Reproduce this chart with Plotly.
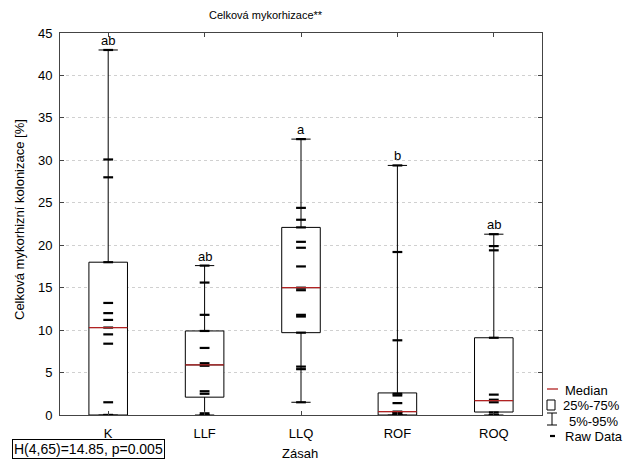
import plotly.graph_objects as go

# ---- data ----
categories = ["K", "LLF", "LLQ", "ROF", "ROQ"]
raw_K = [43.0, 30.1, 28.0, 18.0, 13.2, 12.0, 11.2, 10.3, 9.5, 8.4, 1.5, 0.0, 0.0]
raw_LLF = [17.6, 15.6, 11.8, 9.9, 7.9, 6.1, 5.8, 2.8, 2.5, 0.2, 0.0, 0.0]
raw_LLQ = [32.5, 24.4, 23.0, 22.1, 20.4, 19.7, 17.5, 15.0, 14.7, 11.8, 11.6, 9.7, 5.7, 5.4, 1.5]
raw_ROF = [29.4, 19.2, 8.8, 2.5, 2.3, 1.4, 0.4, 0.3, 0.2, 0.0, 0.0, 0.0, 0.0]
raw_ROQ = [21.3, 19.9, 19.4, 9.1, 2.4, 1.8, 1.5, 0.3, 0.0, 0.0, 0.0, 0.0]
raw_data = [raw_K, raw_LLF, raw_LLQ, raw_ROF, raw_ROQ]

q1 = [0.0, 2.1, 9.7, 0.0, 0.35]
median = [10.3, 5.9, 15.0, 0.4, 1.7]
q3 = [18.0, 9.9, 22.1, 2.6, 9.1]
p05 = [0.0, 0.0, 1.5, 0.0, 0.0]
p95 = [43.0, 17.6, 32.5, 29.4, 21.3]
letters = ["ab", "ab", "a", "b", "ab"]

title_text = "Celková mykorhizace**"
y_title = "Celková mykorhizní kolonizace [%]"
x_title = "Zásah"
stats_text = "H(4,65)=14.85, p=0.005"
y_ticks = [0, 5, 10, 15, 20, 25, 30, 35, 40, 45]

FONT = "Liberation Sans, Arial, sans-serif"
W, H = 637, 464
L, R, T, B = 60, 95, 33, 49
PW, PH = W - L - R, H - T - B


def px(x):
    return (x - L) / PW


def py(y):
    return (H - B - y) / PH


idx = list(range(len(categories)))
BOXW = 0.4

fig = go.Figure()
fig.add_trace(go.Box(
    x=idx, q1=q1, median=median, q3=q3, lowerfence=p05, upperfence=p95,
    width=BOXW, whiskerwidth=0.5, fillcolor="white",
    line=dict(color="black", width=1), boxpoints=False, showlegend=False,
    hoverinfo="skip",
))

rx, ry = [], []
for i, vals in enumerate(raw_data):
    rx += [i] * len(vals)
    ry += vals
fig.add_trace(go.Scatter(
    x=rx, y=ry, mode="markers", showlegend=False,
    marker=dict(symbol="line-ew", size=7, line=dict(width=2.2, color="black")),
))

shapes = []
for i, m in enumerate(median):
    shapes.append(dict(type="line", xref="x", yref="y", x0=i - BOXW / 2, x1=i + BOXW / 2,
                       y0=m, y1=m, line=dict(color="#b22222", width=1.3)))

annotations = []
for i, (t, top) in enumerate(zip(letters, p95)):
    annotations.append(dict(x=i, y=top, xref="x", yref="y", text=t, showarrow=False,
                            yanchor="bottom", yshift=0, font=dict(size=13, color="black", family=FONT)))

annotations += [
    dict(x=px(266), y=py(15), xref="paper", yref="paper", text=title_text, showarrow=False,
         xanchor="center", yanchor="middle", font=dict(size=11, color="black", family=FONT)),
    dict(x=px(19), y=py(220), xref="paper", yref="paper", text=y_title, showarrow=False,
         textangle=-90, xanchor="center", yanchor="middle", font=dict(size=13, color="black", family=FONT)),
    dict(x=px(300), y=py(453), xref="paper", yref="paper", text=x_title, showarrow=False,
         xanchor="center", yanchor="middle", font=dict(size=13, color="black", family=FONT)),
    dict(x=px(12), y=py(449), xref="paper", yref="paper", text=stats_text, showarrow=False,
         xanchor="left", yanchor="middle", bordercolor="black", borderwidth=1, borderpad=1,
         bgcolor="white", font=dict(size=14, color="black", family=FONT)),
]

# legend (manual)
leg_font = dict(size=13, color="black", family=FONT)
shapes += [
    dict(type="line", xref="paper", yref="paper", x0=px(547), x1=px(558), y0=py(389), y1=py(389),
         line=dict(color="#b22222", width=1.3)),
    dict(type="rect", xref="paper", yref="paper", x0=px(547), x1=px(555), y0=py(410), y1=py(400),
         line=dict(color="black", width=1)),
    dict(type="line", xref="paper", yref="paper", x0=px(547), x1=px(557), y0=py(413), y1=py(413),
         line=dict(color="black", width=1)),
    dict(type="line", xref="paper", yref="paper", x0=px(552), x1=px(552), y0=py(413), y1=py(425),
         line=dict(color="black", width=1)),
    dict(type="line", xref="paper", yref="paper", x0=px(547), x1=px(557), y0=py(425), y1=py(425),
         line=dict(color="black", width=1)),
    dict(type="line", xref="paper", yref="paper", x0=px(550), x1=px(555), y0=py(436), y1=py(436),
         line=dict(color="black", width=2.2)),
]
for txt, xx, yy in [("Median", 563, 390), ("25%-75%", 561, 405), ("5%-95%", 567, 421), ("Raw Data", 563, 437)]:
    annotations.append(dict(x=px(xx), y=py(yy), xref="paper", yref="paper", text=txt, showarrow=False,
                            xanchor="left", yanchor="middle", font=leg_font))

fig.update_layout(
    width=W, height=H, margin=dict(l=L, r=R, t=T, b=B),
    paper_bgcolor="white", plot_bgcolor="white",
    font=dict(family=FONT, size=13, color="black"),
    shapes=shapes, annotations=annotations, showlegend=False,
)
fig.update_xaxes(
    range=[-0.5, 4.5], tickvals=idx, ticktext=categories, showgrid=False, zeroline=False,
    showline=True, linecolor="#444444", linewidth=1, mirror="allticks",
    ticks="inside", ticklen=4, tickcolor="#444444", ticklabelstandoff=6,
    tickfont=dict(size=13, color="black", family=FONT),
)
fig.update_yaxes(
    range=[0, 45], tickvals=y_ticks, showgrid=True, gridcolor="#d0d0d0", griddash="dot", gridwidth=1,
    zeroline=False, showline=True, linecolor="#444444", linewidth=1, mirror="allticks",
    ticks="inside", ticklen=4, tickcolor="#444444", ticklabelstandoff=4,
    tickfont=dict(size=13, color="black", family=FONT),
)

fig.write_html("out.html")
